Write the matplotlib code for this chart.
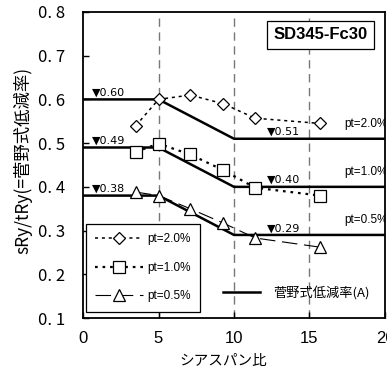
import matplotlib
matplotlib.use("Agg")
import matplotlib.pyplot as plt
from matplotlib.lines import Line2D

plt.rcParams['font.family'] = ['Noto Sans CJK JP', 'DejaVu Sans']

# data
shear_span = [3.5, 5.0, 7.1, 9.3, 11.4, 15.7]
pt20 = [0.54, 0.60, 0.61, 0.59, 0.557, 0.545]
pt10 = [0.48, 0.499, 0.474, 0.438, 0.398, 0.38]
pt05 = [0.388, 0.38, 0.35, 0.317, 0.283, 0.262]

sugano_x = [0, 5, 10, 20]
sugano_20 = [0.60, 0.60, 0.51, 0.51]
sugano_10 = [0.49, 0.49, 0.40, 0.40]
sugano_05 = [0.38, 0.38, 0.29, 0.29]

xticks = [0, 5, 10, 15, 20]
yticks = [0.1, 0.2, 0.3, 0.4, 0.5, 0.6, 0.7, 0.8]
ytick_labels = ["0. 1", "0. 2", "0. 3", "0. 4", "0. 5", "0. 6", "0. 7", "0. 8"]

fig = plt.figure(figsize=(3.87, 3.74), dpi=100)
ax = fig.add_axes([0.2145, 0.1497, 0.9948 - 0.2145, 0.968 - 0.1497])
ax.set_xlim(0, 20)
ax.set_ylim(0.1, 0.8)

for xv in [5, 10, 15]:
    ax.axvline(xv, color='#777777', lw=1.0, ls=(0, (6, 4)), zorder=1)

# Sugano lines
for ys in [sugano_20, sugano_10, sugano_05]:
    ax.plot(sugano_x, ys, color='black', lw=1.8, zorder=2)

l20, = ax.plot(shear_span, pt20, color='black', lw=1.1, ls=(0, (2.0, 2.5)),
               marker='D', markersize=6.5, mfc='white', mec='black', mew=0.9, zorder=3)
l10, = ax.plot(shear_span, pt10, color='black', lw=1.6, ls=(0, (1.2, 2.2)),
               marker='s', markersize=8.5, mfc='white', mec='black', mew=0.9, zorder=3)
l05, = ax.plot(shear_span, pt05, color='black', lw=0.8, ls=(0, (14, 6)),
               marker='^', markersize=9, mfc='white', mec='black', mew=0.9, zorder=3)

# annotations
ann_fs = 8
for xv, yv, txt in [(0.6, 0.60, "▼0.60"), (0.6, 0.49, "▼0.49"), (0.6, 0.38, "▼0.38"),
                    (12.2, 0.51, "▼0.51"), (12.2, 0.40, "▼0.40"), (12.2, 0.29, "▼0.29")]:
    ax.text(xv, yv + 0.004, txt, fontsize=ann_fs, ha='left', va='bottom',
            family=['DejaVu Sans'], zorder=4)

for yv, txt in [(0.51, "pt=2.0%"), (0.40, "pt=1.0%"), (0.29, "pt=0.5%")]:
    ax.text(17.3, yv + 0.02, txt, fontsize=8.5, ha='left', va='bottom',
            family=['Liberation Sans', 'DejaVu Sans'], clip_on=True, zorder=4)

# title box
ax.text(0.786, 0.925, "SD345-Fc30", transform=ax.transAxes, fontsize=12,
        fontweight='bold', ha='center', va='center', family=['Liberation Sans', 'DejaVu Sans'],
        bbox=dict(boxstyle='square,pad=0.4', fc='white', ec='black', lw=0.9), zorder=5)

ax.set_xticks(xticks)
ax.set_xticklabels([str(v) for v in xticks], fontsize=12, family=['Liberation Sans', 'DejaVu Sans'])
ax.set_yticks(yticks)
ax.set_yticklabels(ytick_labels, fontsize=12, family=['Noto Sans CJK JP', 'DejaVu Sans'])
ax.tick_params(direction='in', length=4, width=1)
ax.tick_params(axis='y', pad=13)
ax.tick_params(axis='x', pad=9)

for sp in ax.spines.values():
    sp.set_linewidth(1.3)

ax.set_xlabel("シアスパン比", fontsize=10.5)
ax.xaxis.set_label_coords(0.464, -0.118)
ax.set_ylabel("sRy/tRy(=菅野式低減率)", fontsize=12.5)
ax.yaxis.set_label_coords(-0.166, 0.515)

leg = ax.legend([l20, l10, l05], ["pt=2.0%", "pt=1.0%", "pt=0.5%"],
                loc='lower left', bbox_to_anchor=(0.01, 0.02), 
                handlelength=4.0, handletextpad=0.4, borderpad=0.8, labelspacing=1.4,
                fancybox=False, edgecolor='black', framealpha=1, borderaxespad=0.0,
                prop={'family': ['Liberation Sans', 'DejaVu Sans'], 'size': 8.5})
leg.get_frame().set_linewidth(0.9)
leg.set_zorder(6)
ax.add_artist(leg)

h_sug = Line2D([], [], color='black', lw=1.8)
leg2 = ax.legend([h_sug], ["菅野式低減率(A)"], loc='lower right',
                 bbox_to_anchor=(0.99, 0.02), frameon=False, fontsize=9.5,
                 handlelength=2.8, handletextpad=1.0)

fig.savefig("out.png", dpi=100)
